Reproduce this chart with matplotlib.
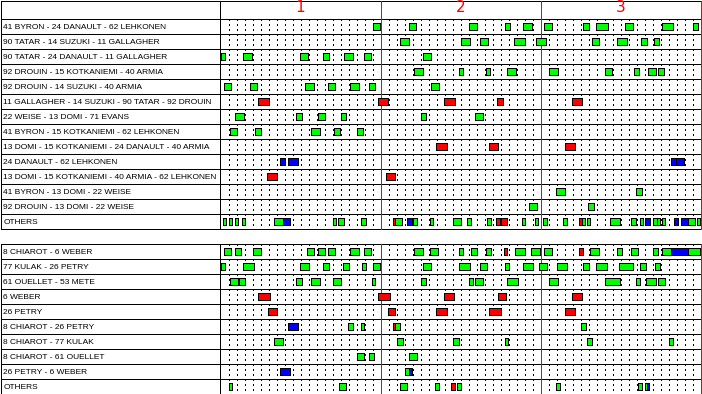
"""Line shift chart: which forward lines / defence pairs were on the ice, by period."""

import matplotlib
matplotlib.use("Agg")
import matplotlib.pyplot as plt

# shift colours: even strength, shorthanded, power play
KIND_COLORS = {"g": "#00ff00", "r": "#ff0000", "b": "#0000ff"}

period_labels = ["1", "2", "3"]
period_length = 1200  # seconds

top_labels = [
    "41 BYRON - 24 DANAULT - 62 LEHKONEN",
    "90 TATAR - 14 SUZUKI - 11 GALLAGHER",
    "90 TATAR - 24 DANAULT - 11 GALLAGHER",
    "92 DROUIN - 15 KOTKANIEMI - 40 ARMIA",
    "92 DROUIN - 14 SUZUKI - 40 ARMIA",
    "11 GALLAGHER - 14 SUZUKI - 90 TATAR - 92 DROUIN",
    "22 WEISE - 13 DOMI - 71 EVANS",
    "41 BYRON - 15 KOTKANIEMI - 62 LEHKONEN",
    "13 DOMI - 15 KOTKANIEMI - 24 DANAULT - 40 ARMIA",
    "24 DANAULT - 62 LEHKONEN",
    "13 DOMI - 15 KOTKANIEMI - 40 ARMIA - 62 LEHKONEN",
    "41 BYRON - 13 DOMI - 22 WEISE",
    "92 DROUIN - 13 DOMI - 22 WEISE",
    "OTHERS",
]

# (start second, end second, kind) for every shift, one list per row
top_shifts = [
    [(1144, 1196, "g"), (1414, 1464, "g"), (1864, 1921, "g"), (2134, 2169, "g"),
     (2271, 2334, "g"), (2429, 2484, "g"), (2721, 2761, "g"), (2819, 2904, "g"),
     (3036, 3091, "g"), (3314, 3391, "g"), (3546, 3579, "g")],
    [(1349, 1411, "g"), (1804, 1869, "g"), (1946, 2006, "g"), (2201, 2284, "g"),
     (2366, 2439, "g"), (2789, 2836, "g"), (2974, 3046, "g"), (3154, 3196, "g"),
     (3251, 3289, "g")],
    [(0, 36, "g"), (171, 234, "g"), (599, 656, "g"), (771, 816, "g"),
     (929, 991, "g"), (1079, 1126, "g"), (1521, 1581, "g")],
    [(1451, 1516, "g"), (1789, 1816, "g"), (1991, 2019, "g"), (2149, 2214, "g"),
     (2464, 2529, "g"), (2884, 2936, "g"), (3104, 3136, "g"), (3206, 3264, "g"),
     (3284, 3324, "g")],
    [(26, 76, "g"), (221, 271, "g"), (634, 701, "g"), (806, 856, "g"),
     (971, 1039, "g"), (1114, 1156, "g"), (1579, 1636, "g")],
    [(281, 361, "r"), (1181, 1256, "r"), (1676, 1756, "r"), (2074, 2119, "r"),
     (2636, 2709, "r")],
    [(109, 176, "g"), (564, 609, "g"), (731, 781, "g"), (904, 939, "g"),
     (1504, 1541, "g"), (1909, 1969, "g")],
    [(71, 121, "g"), (259, 304, "g"), (679, 744, "g"), (851, 896, "g"),
     (1024, 1066, "g")],
    [(1616, 1696, "r"), (2014, 2079, "r"), (2581, 2656, "r")],
    [(446, 481, "b"), (509, 581, "b"), (3379, 3416, "b"), (3416, 3474, "b")],
    [(349, 421, "r"), (1241, 1306, "r")],
    [(2516, 2581, "g"), (3116, 3159, "g")],
    [(2314, 2374, "g"), (2759, 2799, "g")],
    [(16, 41, "g"), (64, 84, "g"), (109, 129, "g"), (161, 181, "g"),
     (404, 466, "g"), (466, 519, "b"), (844, 864, "g"), (881, 924, "g"),
     (1056, 1089, "g"), (1294, 1311, "r"), (1306, 1364, "g"), (1401, 1436, "b"),
     (1446, 1474, "g"), (1571, 1594, "g"), (1744, 1801, "g"), (1851, 1879, "g"),
     (1999, 2026, "g"), (2066, 2094, "r"), (2104, 2146, "r"), (2261, 2281, "g"),
     (2361, 2381, "g"), (2421, 2449, "g"), (2571, 2596, "g"), (2689, 2711, "r"),
     (2711, 2731, "g"), (2751, 2771, "g"), (2924, 2996, "g"), (3081, 3114, "g"),
     (3149, 3169, "g"), (3186, 3219, "b"), (3246, 3271, "g"), (3271, 3296, "g"),
     (3314, 3334, "g"), (3404, 3429, "b"), (3456, 3504, "b"), (3504, 3559, "g"),
     (3571, 3596, "g")],
]

bottom_labels = [
    "8 CHIAROT - 6 WEBER",
    "77 KULAK - 26 PETRY",
    "61 OUELLET - 53 METE",
    "6 WEBER",
    "26 PETRY",
    "8 CHIAROT - 26 PETRY",
    "8 CHIAROT - 77 KULAK",
    "8 CHIAROT - 61 OUELLET",
    "26 PETRY - 6 WEBER",
    "OTHERS",
]

bottom_shifts = [
    [(29, 76, "g"), (109, 151, "g"), (246, 301, "g"), (651, 701, "g"),
     (731, 781, "g"), (806, 856, "g"), (974, 1039, "g"), (1079, 1126, "g"),
     (1454, 1516, "g"), (1574, 1629, "g"), (1791, 1816, "g"), (1879, 1921, "g"),
     (1991, 2026, "g"), (2126, 2146, "r"), (2209, 2281, "g"), (2329, 2399, "g"),
     (2429, 2484, "g"), (2689, 2716, "r"), (2774, 2836, "g"), (2974, 3009, "g"),
     (3079, 3134, "g"), (3244, 3279, "g"), (3311, 3376, "g"), (3376, 3506, "b"),
     (3506, 3596, "g")],
    [(0, 36, "g"), (171, 254, "g"), (599, 666, "g"), (771, 816, "g"),
     (921, 966, "g"), (1064, 1089, "g"), (1146, 1194, "g"), (1521, 1581, "g"),
     (1791, 1874, "g"), (1946, 2001, "g"), (2134, 2166, "g"), (2271, 2346, "g"),
     (2389, 2446, "g"), (2526, 2596, "g"), (2721, 2766, "g"), (2819, 2901, "g"),
     (2991, 3091, "g"), (3146, 3194, "g"), (3259, 3294, "g")],
    [(71, 129, "g"), (139, 181, "g"), (566, 609, "g"), (679, 744, "g"),
     (844, 901, "g"), (1136, 1156, "g"), (1504, 1541, "g"), (1864, 1891, "g"),
     (1909, 1966, "g"), (2149, 2229, "g"), (2464, 2529, "g"), (2884, 2996, "g"),
     (3116, 3144, "g"), (3191, 3264, "g"), (3284, 3331, "g")],
    [(281, 369, "r"), (1181, 1269, "r"), (1676, 1749, "r"), (2081, 2139, "r"),
     (2636, 2709, "r")],
    [(356, 421, "r"), (1256, 1306, "r"), (1616, 1696, "r"), (2014, 2101, "r"),
     (2584, 2656, "r")],
    [(506, 581, "b"), (956, 991, "g"), (1054, 1076, "g"), (1294, 1309, "r"),
     (1309, 1344, "g"), (2704, 2739, "g")],
    [(404, 466, "g"), (1324, 1366, "g"), (1744, 1786, "g"), (2134, 2154, "g"),
     (2749, 2784, "g"), (3364, 3391, "g")],
    [(1024, 1074, "g"), (1114, 1149, "g"), (1414, 1471, "g")],
    [(446, 519, "b"), (1384, 1414, "g"), (1414, 1434, "b")],
    [(64, 84, "g"), (889, 939, "g"), (1346, 1396, "g"), (1609, 1636, "g"),
     (1729, 1756, "r"), (1774, 1804, "g"), (2516, 2546, "g"), (3131, 3161, "g"),
     (3184, 3196, "g"), (3196, 3214, "b")],
]

W, H = 702, 394
SEC_PER_PX = 7.5          # 8 px per minute
X0_PX = 220.5             # pixel where the game clock starts
GAME_END = period_length * len(period_labels)
LABEL_X = -1630           # seconds left of the clock start, in the label column
LEFT_EDGE = -1650
SEPARATOR = -7.5
PX = 72.0 / 100           # one pixel in points at dpi 100
LABEL_FONT = ["Liberation Sans", "DejaVu Sans"]

plt.rcParams["lines.antialiased"] = False
plt.rcParams["patch.antialiased"] = False


def _make_axes(fig, top_px, bottom_px, n_rows, header_rows):
    axes = fig.add_axes([0, (H - bottom_px) / H, 1, (bottom_px - top_px) / H])
    axes.set_xlim(-X0_PX * SEC_PER_PX, (W - X0_PX) * SEC_PER_PX)
    axes.set_ylim(n_rows, -header_rows)
    axes.set_axis_off()
    return axes


def _draw_panel(axes, labels, shifts, header_rows):
    n_rows = len(labels)
    top = -header_rows
    # minute grid inside the rows
    minutes = [m * 60 for m in range(1, GAME_END // 60)
               if (m * 60) % period_length != 0]
    axes.vlines(minutes, 0, n_rows, colors="black", linewidth=PX,
                linestyles=(0, (2, 3)), zorder=1)
    # row borders and frame
    rows = list(range(n_rows + 1))
    if header_rows:
        rows.append(top)
    axes.hlines(rows, LEFT_EDGE, GAME_END, colors="black", linewidth=PX,
                zorder=2, clip_on=False)
    axes.vlines([LEFT_EDGE, SEPARATOR], top, n_rows, colors="black",
                linewidth=PX, zorder=2, clip_on=False)
    # period ends
    ends = [period_length * (p + 1) for p in range(len(period_labels))]
    axes.vlines(ends, top, n_rows, colors="#ff0000", linewidth=PX,
                zorder=2, clip_on=False)

    for i, (label, row) in enumerate(zip(labels, shifts)):
        axes.text(LABEL_X, i + 0.71, label, fontsize=6.0, family=LABEL_FONT,
                  va="baseline", ha="left", color="black")
        axes.broken_barh(
            [(s, e - s) for s, e, _ in row],
            (i + 4 / 15, 7 / 15),
            facecolors=[KIND_COLORS[k] for _, _, k in row],
            edgecolors="black",
            linewidth=PX,
            zorder=3,
        )

    if header_rows:
        for p, name in enumerate(period_labels):
            axes.text(period_length * (p + 0.5), top + 6.5 / 15, name,
                      fontsize=11, color="#ff0000", ha="center", va="center")


fig = plt.figure(figsize=(W / 100, H / 100), dpi=100)
fig.patch.set_facecolor("white")

top_axes = _make_axes(fig, 0.5, 228.5, len(top_labels), 1.2)
_draw_panel(top_axes, top_labels, top_shifts, 1.2)

bottom_axes = _make_axes(fig, 243.5, 393.5, len(bottom_labels), 0)
_draw_panel(bottom_axes, bottom_labels, bottom_shifts, 0)

fig.savefig("out.png", dpi=100)
